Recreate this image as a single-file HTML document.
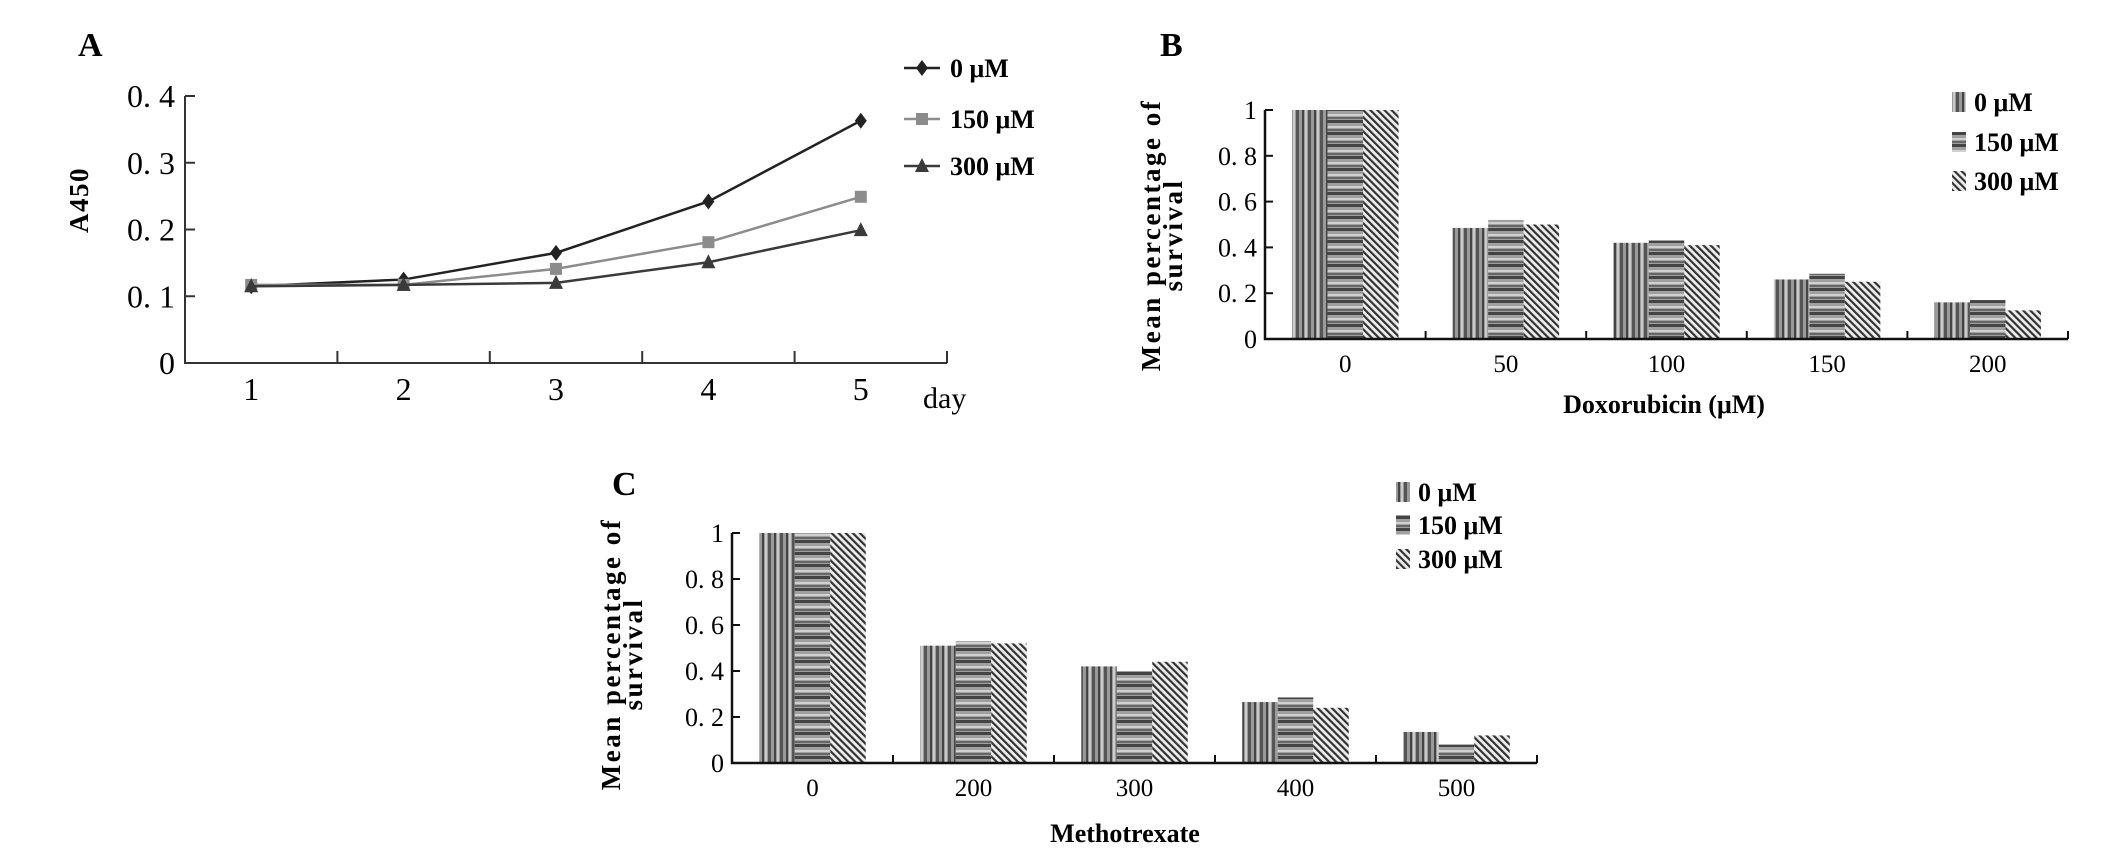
<!DOCTYPE html>
<html><head><meta charset="utf-8"><style>
html,body{margin:0;padding:0;background:#fff;}
svg{display:block;font-family:"Liberation Serif",serif;}
</style></head><body>
<svg id="fig" width="2126" height="854" viewBox="0 0 2126 854">
<defs>
<pattern id="pv" width="12" height="10" patternUnits="userSpaceOnUse">
<rect width="12" height="10" fill="#9a9a9a"/><rect x="0" width="3" height="10" fill="#555"/><rect x="6" width="2" height="10" fill="#444"/><rect x="9" width="2" height="10" fill="#ccc"/></pattern>
<pattern id="ph" width="10" height="12" patternUnits="userSpaceOnUse">
<rect width="10" height="12" fill="#a0a0a0"/><rect y="0" width="10" height="3" fill="#444"/><rect y="6" width="10" height="2" fill="#d0d0d0"/><rect y="9" width="10" height="2" fill="#666"/></pattern>
<pattern id="pd" width="5" height="5" patternUnits="userSpaceOnUse" patternTransform="rotate(-45)">
<rect width="5" height="5" fill="#eee"/><rect width="2.2" height="5" fill="#333"/></pattern>
</defs>
<g id="gA"></g>
<g id="gB"></g>
<g id="gC"></g>
</svg>
<script>
// Panel A data
const daysA = [1,2,3,4,5];
const a0 = [0.115,0.125,0.165,0.242,0.363];
const a150 = [0.117,0.117,0.141,0.181,0.249];
const a300 = [0.115,0.117,0.120,0.151,0.199];
const yTicksA = [0,0.1,0.2,0.3,0.4];
// Panel B data
const catsB = ["0","50","100","150","200"];
const b0 = [1,0.485,0.42,0.26,0.16];
const b150 = [1,0.52,0.43,0.285,0.17];
const b300 = [1,0.5,0.41,0.25,0.125];
// Panel C data
const catsC = ["0","200","300","400","500"];
const c0 = [1,0.51,0.42,0.265,0.135];
const c150 = [1,0.53,0.40,0.285,0.08];
const c300 = [1,0.52,0.44,0.24,0.12];
const yTicksBar = [0,0.2,0.4,0.6,0.8,1];
const seriesNames = ["0 μM","150 μM","300 μM"];

const NS="http://www.w3.org/2000/svg";
function mk(parent,tag,attrs,text){const e=document.createElementNS(NS,tag);for(const k in attrs)e.setAttribute(k,attrs[k]);if(text!==undefined)e.textContent=text;parent.appendChild(e);return e;}

// ---------- Panel A ----------
(function(){
const g=document.getElementById('gA');
const X0=185,X1=947,Y0=363,Y1=96,vmax=0.4;
const y=v=>Y0-(v/vmax)*(Y0-Y1);
const step=(X1-X0)/5;
const x=i=>X0+step*(i+0.5)-0;
let t=mk(g,'text',{x:78,y:56,'font-size':34,'font-weight':'bold'},'A');

let ax=mk(g,'path',{d:`M${X0} ${Y1}V${Y0}H${X1}`,stroke:'#333','stroke-width':2,fill:'none'});

yTicksA.forEach(v=>{
 mk(g,'line',{x1:X0,x2:X0+10,y1:y(v),y2:y(v),stroke:'#333','stroke-width':2});
 const l=mk(g,'text',{x:X0-10,y:y(v)+11,'font-size':32,'text-anchor':'end'},v===0?'0':v.toFixed(1).replace('.','. '));
 
});
for(let i=1;i<=5;i++){mk(g,'line',{x1:X0+step*i,x2:X0+step*i,y1:Y0,y2:Y0-12,stroke:'#333','stroke-width':2});}
daysA.forEach((d,i)=>{const l=mk(g,'text',{x:x(i)-10,y:400,'font-size':32,'text-anchor':'middle'},String(d));
 });
let dl=mk(g,'text',{x:923,y:408,'font-size':30},'day');
let yt=mk(g,'text',{x:0,y:0,'font-size':27,'font-weight':'bold','text-anchor':'middle','letter-spacing':1.5,transform:'translate(88,200) rotate(-90)'},'A450');

const ser=[[a0,'#222','d'],[a150,'#8c8c8c','s'],[a300,'#3a3a3a','t']];
function marker(px,py,type,col){
 if(type==='d')return mk(g,'path',{d:`M${px} ${py-8}L${px+6} ${py}L${px} ${py+8}L${px-6} ${py}Z`,fill:col});
 if(type==='s')return mk(g,'rect',{x:px-6,y:py-6,width:12,height:12,fill:col});
 return mk(g,'path',{d:`M${px} ${py-8}L${px+7} ${py+6}L${px-7} ${py+6}Z`,fill:col});
}
ser.forEach((s,si)=>{
 const pts=s[0].map((v,i)=>`${x(i)-10},${y(v)}`).join(' ');
 const pl=mk(g,'polyline',{points:pts,fill:'none',stroke:s[1],'stroke-width':2.5});
 
 s[0].forEach((v,i)=>{const m=marker(x(i)-10,y(v),s[2],s[1]);});
 const ly=[68,119,166][si];
 mk(g,'line',{x1:904,x2:940,y1:ly,y2:ly,stroke:s[1],'stroke-width':2.5});
 const lm=marker(922,ly,s[2],s[1]);
 const lt=mk(g,'text',{x:950,y:ly+9,'font-size':26,'font-weight':'bold'},seriesNames[si]);
 
});
})();

// ---------- Bar panels ----------
function barPanel(g,opt,cats,s0,s150,s300){
 const {X0,X1,Y0,Y1,letter,lx,ly,title,tx,ty,ytx,yty,legX,legY,pre}=opt;
 const y=v=>Y0-v*(Y0-Y1);
 const step=(X1-X0)/cats.length;
 const bw=35.5;
 let t=mk(g,'text',{x:lx,y:ly,'font-size':34,'font-weight':'bold'},letter);
 
 const data=[s0,s150,s300],fills=['url(#pv)','url(#ph)','url(#pd)'];
 cats.forEach((c,i)=>{
  const cx=X0+step*(i+0.5);
  data.forEach((arr,si)=>{
   const r=mk(g,'rect',{x:cx-1.5*bw+si*bw,y:y(arr[i]),width:bw,height:Y0-y(arr[i]),fill:fills[si]});
   
  });
  const l=mk(g,'text',{x:cx,y:Y0+33,'font-size':25,'text-anchor':'middle'},c);
  
  mk(g,'line',{x1:X0+step*(i+1),x2:X0+step*(i+1),y1:Y0,y2:Y0-8,stroke:'#111','stroke-width':2});
 });
 const ax=mk(g,'path',{d:`M${X0} ${Y1}V${Y0}H${X1}`,stroke:'#111','stroke-width':2.5,fill:'none'});
 
 yTicksBar.forEach(v=>{
  mk(g,'line',{x1:X0,x2:X0+8,y1:y(v),y2:y(v),stroke:'#111','stroke-width':2});
  const l=mk(g,'text',{x:X0-8,y:y(v)+9,'font-size':26,'text-anchor':'end'},(v===0||v===1)?String(v):v.toFixed(1).replace('.','. '));
  
 });
 const tt=mk(g,'text',{x:tx,y:ty,'font-size':26,'font-weight':'bold','text-anchor':'middle'},title);
 
 const yt=mk(g,'text',{x:0,y:0,'font-size':27,'font-weight':'bold','text-anchor':'middle','letter-spacing':2.5,transform:`translate(${ytx},${yty}) rotate(-90)`});
 
 mk(yt,'tspan',{x:0,dy:0},'Mean percentage of');mk(yt,'tspan',{x:0,dy:22},'survival');
 seriesNames.forEach((n,si)=>{
  const sy=legY[si];
  const sw=mk(g,'rect',{x:legX,y:sy-10,width:14,height:20,fill:fills[si]});
  
  const lt=mk(g,'text',{x:legX+22,y:sy+9,'font-size':26,'font-weight':'bold'},n);
  
 });
}
barPanel(document.getElementById('gB'),{X0:1265,X1:2068,Y0:339,Y1:110,letter:'B',lx:1160,ly:56,title:'Doxorubicin (μM)',tx:1664,ty:413,ytx:1160,yty:235,legX:1952,legY:[102,142,181],pre:'b'},catsB,b0,b150,b300);
barPanel(document.getElementById('gC'),{X0:732,X1:1537,Y0:763,Y1:533,letter:'C',lx:612,ly:495,title:'Methotrexate',tx:1125,ty:842,ytx:620,yty:654,legX:1396,legY:[492,525,559],pre:'c'},catsC,c0,c150,c300);
</script>
</body></html>
